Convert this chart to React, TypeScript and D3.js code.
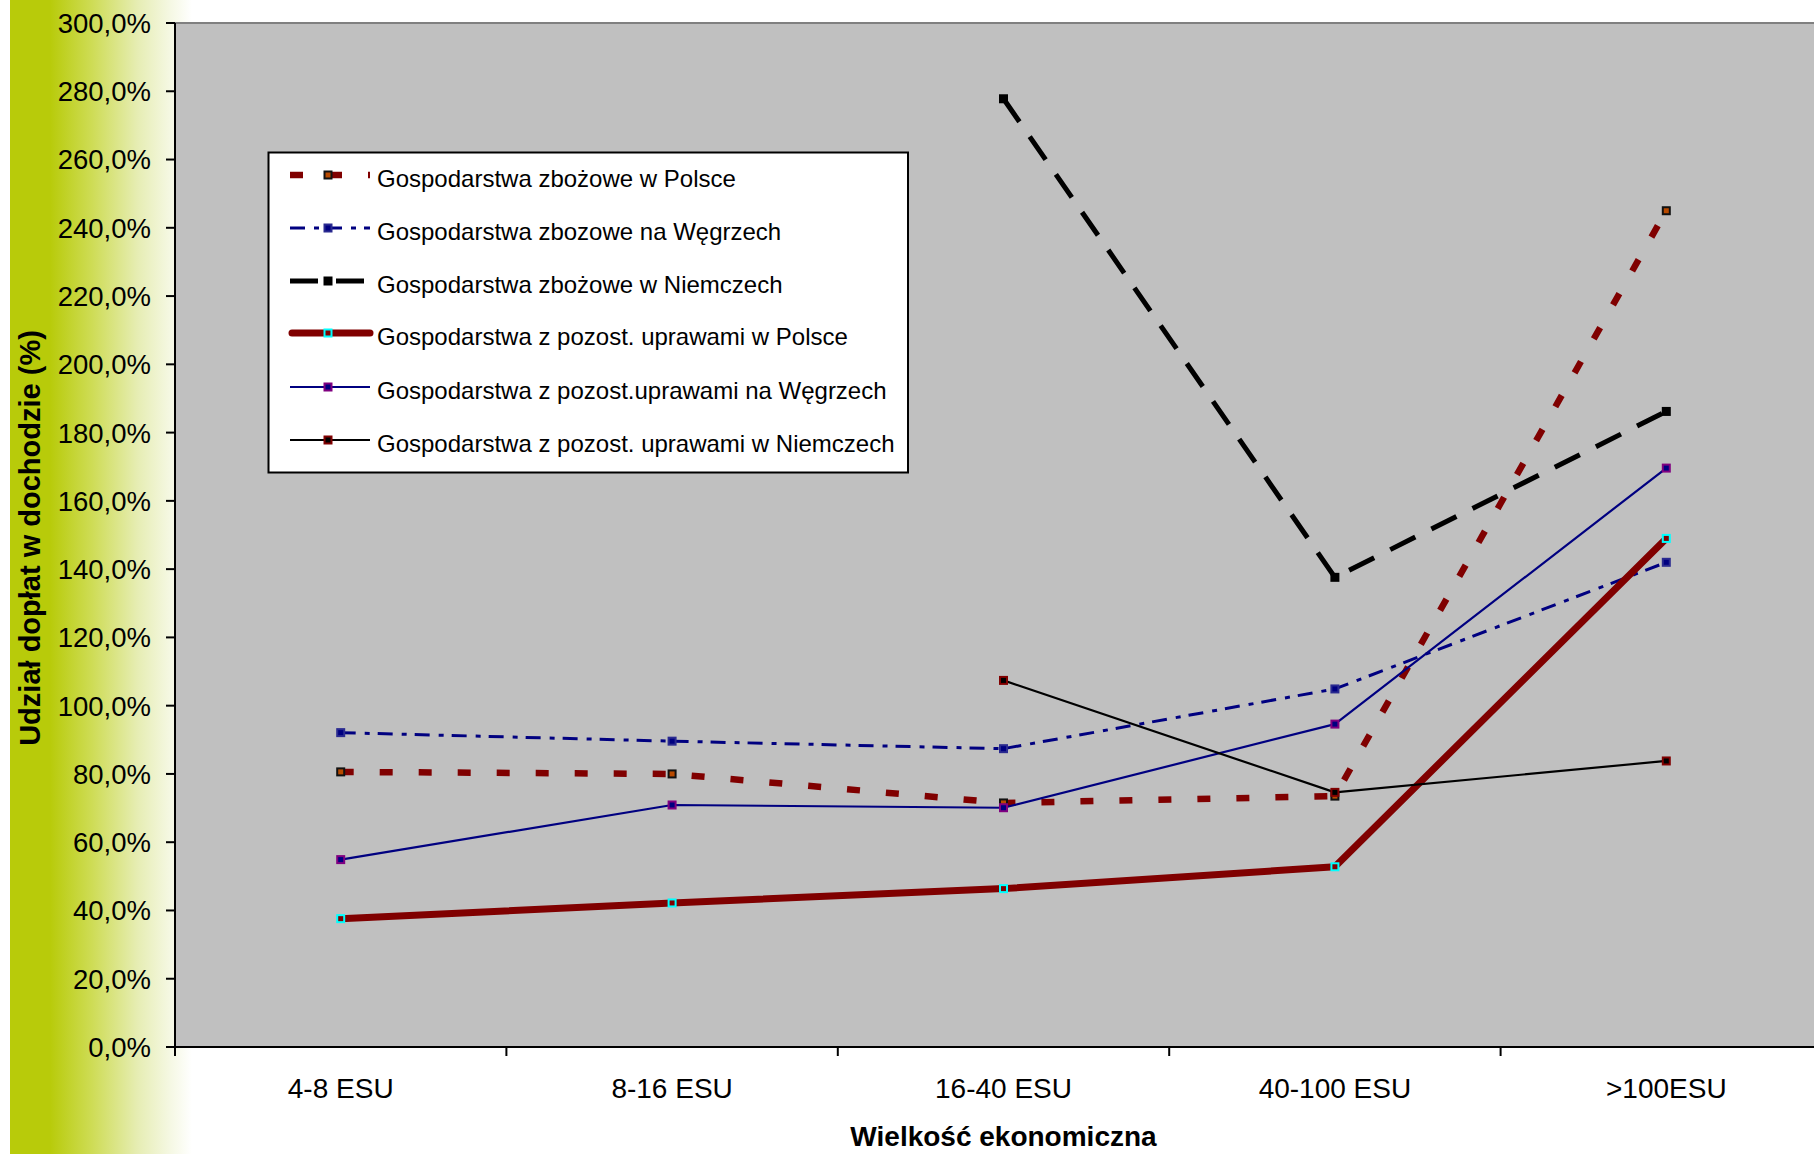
import React from "react";
import * as d3 from "d3";

const categories = ["4-8 ESU", "8-16 ESU", "16-40 ESU", "40-100 ESU", ">100ESU"];
const plZboz: (number | null)[] = [80.6, 80.0, 71.5, 73.5, 245.0];
const huZboz: (number | null)[] = [92.1, 89.6, 87.4, 104.9, 142.0];
const deZboz: (number | null)[] = [null, null, 277.8, 137.6, 186.2];
const plPozost: (number | null)[] = [37.6, 42.2, 46.4, 52.8, 149.0];
const huPozost: (number | null)[] = [54.9, 70.9, 70.1, 94.6, 169.6];
const dePozost: (number | null)[] = [null, null, 107.4, 74.6, 83.8];
const yTicks = [0, 20, 40, 60, 80, 100, 120, 140, 160, 180, 200, 220, 240, 260, 280, 300];

const seriesNames = [
  "Gospodarstwa zbożowe w Polsce",
  "Gospodarstwa zbozowe na Węgrzech",
  "Gospodarstwa zbożowe w Niemczech",
  "Gospodarstwa z pozost. uprawami w Polsce",
  "Gospodarstwa z pozost.uprawami na Węgrzech",
  "Gospodarstwa z pozost. uprawami w Niemczech",
];

const seriesData = [plZboz, huZboz, deZboz, plPozost, huPozost, dePozost];

const styles = [
  { color: "#800000", width: 6.5, dash: "13,26", cap: "butt", mFill: "#B84A00", mStroke: "#111", legendCap: "butt" },
  { color: "#000080", width: 3, dash: "15,9,5,8", cap: "butt", mFill: "#000080", mStroke: "#2a2a90", legendCap: "butt" },
  { color: "#000000", width: 5, dash: "28,18", cap: "butt", mFill: "#000000", mStroke: "#000000", legendCap: "butt" },
  { color: "#800000", width: 7, dash: "", cap: "round", mFill: "#800000", mStroke: "#00FFFF", legendCap: "round" },
  { color: "#000080", width: 2.2, dash: "", cap: "butt", mFill: "#000080", mStroke: "#800080", legendCap: "butt" },
  { color: "#000000", width: 2.2, dash: "", cap: "butt", mFill: "#000000", mStroke: "#800000", legendCap: "butt" },
];

const W = 1814;
const H = 1154;
const plotL = 175;
const plotR = 1832;
const plotT = 23;
const plotB = 1047;
const FONT = "'Liberation Sans', Arial, sans-serif";

export default function App() {
  const x = d3.scaleBand<string>().domain(categories).range([plotL, plotR]).paddingInner(0).paddingOuter(0);
  const y = d3.scaleLinear().domain([0, 300]).range([plotB, plotT]);
  const cx = (c: string) => (x(c) as number) + x.bandwidth() / 2;

  const line = d3
    .line<number | null>()
    .defined((d) => d !== null)
    .x((_, i) => cx(categories[i]))
    .y((d) => y(d as number));

  const legendX0 = 290;
  const legendX1 = 370;
  const legendRows = [175, 228, 281, 333, 387, 440];

  return (
    <svg
      width={W}
      height={H}
      style={{ position: "absolute", left: 0, top: 0, background: "#fff" }}
      fontFamily={FONT}
    >
      <defs>
        <linearGradient id="leftGrad" x1="0" x2="1" y1="0" y2="0">
          <stop offset="0%" stopColor="#B8CB0A" />
          <stop offset="22%" stopColor="#B8CB0A" />
          <stop offset="45%" stopColor="#CEDC55" />
          <stop offset="70%" stopColor="#E6EDB3" />
          <stop offset="88%" stopColor="#F5F8E3" />
          <stop offset="100%" stopColor="#FFFFFF" />
        </linearGradient>
        <clipPath id="plotClip">
          <rect x={plotL} y={plotT - 2} width={W - plotL} height={plotB - plotT + 4} />
        </clipPath>
      </defs>
      <rect x={0} y={0} width={W} height={H} fill="#fff" />
      <rect x={10} y={0} width={182} height={H} fill="url(#leftGrad)" />

      {/* plot area */}
      <rect x={plotL} y={plotT} width={plotR - plotL} height={plotB - plotT} fill="#C0C0C0" />
      <line x1={plotL} x2={W} y1={plotT} y2={plotT} stroke="#808080" strokeWidth={2} />

      {/* series */}
      <g clipPath="url(#plotClip)">
        {seriesData.map((data, si) => {
          const st = styles[si];
          return (
            <g key={si}>
              <path
                d={line(data) || ""}
                fill="none"
                stroke={st.color}
                strokeWidth={st.width}
                strokeDasharray={st.dash || undefined}
                strokeLinecap={st.cap as any}
                strokeLinejoin="round"
              />
              {data.map((v, i) =>
                v === null ? null : (
                  <rect
                    key={i}
                    x={cx(categories[i]) - 3.5}
                    y={y(v) - 3.5}
                    width={7}
                    height={7}
                    fill={st.mFill}
                    stroke={st.mStroke}
                    strokeWidth={2}
                  />
                )
              )}
            </g>
          );
        })}
      </g>

      {/* axes */}
      <line x1={plotL} x2={plotL} y1={plotT} y2={plotB} stroke="#000" strokeWidth={2} />
      <line x1={plotL} x2={W} y1={plotB} y2={plotB} stroke="#000" strokeWidth={2} />
      {yTicks.map((t) => (
        <g key={t}>
          <line x1={plotL - 9} x2={plotL} y1={y(t)} y2={y(t)} stroke="#000" strokeWidth={2} />
          <text x={151} y={y(t)} dy="0.36em" textAnchor="end" fontSize={27.5} fill="#000">
            {d3.format(".1f")(t).replace(".", ",") + "%"}
          </text>
        </g>
      ))}
      {categories.map((c) => (
        <g key={c}>
          <line x1={x(c) as number} x2={x(c) as number} y1={plotB} y2={plotB + 9} stroke="#000" strokeWidth={2} />
          <text x={cx(c)} y={1098} textAnchor="middle" fontSize={28} fill="#000">
            {c}
          </text>
        </g>
      ))}

      {/* axis titles */}
      <text x={(plotL + plotR) / 2} y={1146} textAnchor="middle" fontSize={28} fontWeight="bold" fill="#000">
        Wielkość ekonomiczna
      </text>
      <text
        transform={`translate(39.5, ${538}) rotate(-90)`}
        textAnchor="middle"
        fontSize={29}
        fontWeight="bold"
        fill="#000"
      >
        Udział dopłat w dochodzie (%)
      </text>

      {/* legend */}
      <rect x={268.5} y={152.5} width={639.5} height={320} fill="#fff" stroke="#000" strokeWidth={2} />
      {seriesNames.map((name, si) => {
        const st = styles[si];
        const ly = legendRows[si];
        const mx = (legendX0 + legendX1) / 2 - 2;
        return (
          <g key={name}>
            <line
              x1={st.legendCap === "round" ? legendX0 + 2 : legendX0}
              x2={legendX1}
              y1={ly}
              y2={ly}
              stroke={st.color}
              strokeWidth={st.width}
              strokeDasharray={st.dash || undefined}
              strokeLinecap={st.legendCap as any}
            />
            <rect x={mx - 3.5} y={ly - 3.5} width={7} height={7} fill={st.mFill} stroke={st.mStroke} strokeWidth={2} />
            <text x={377} y={ly + 12} fontSize={24} fill="#000">
              {name}
            </text>
          </g>
        );
      })}
    </svg>
  );
}
